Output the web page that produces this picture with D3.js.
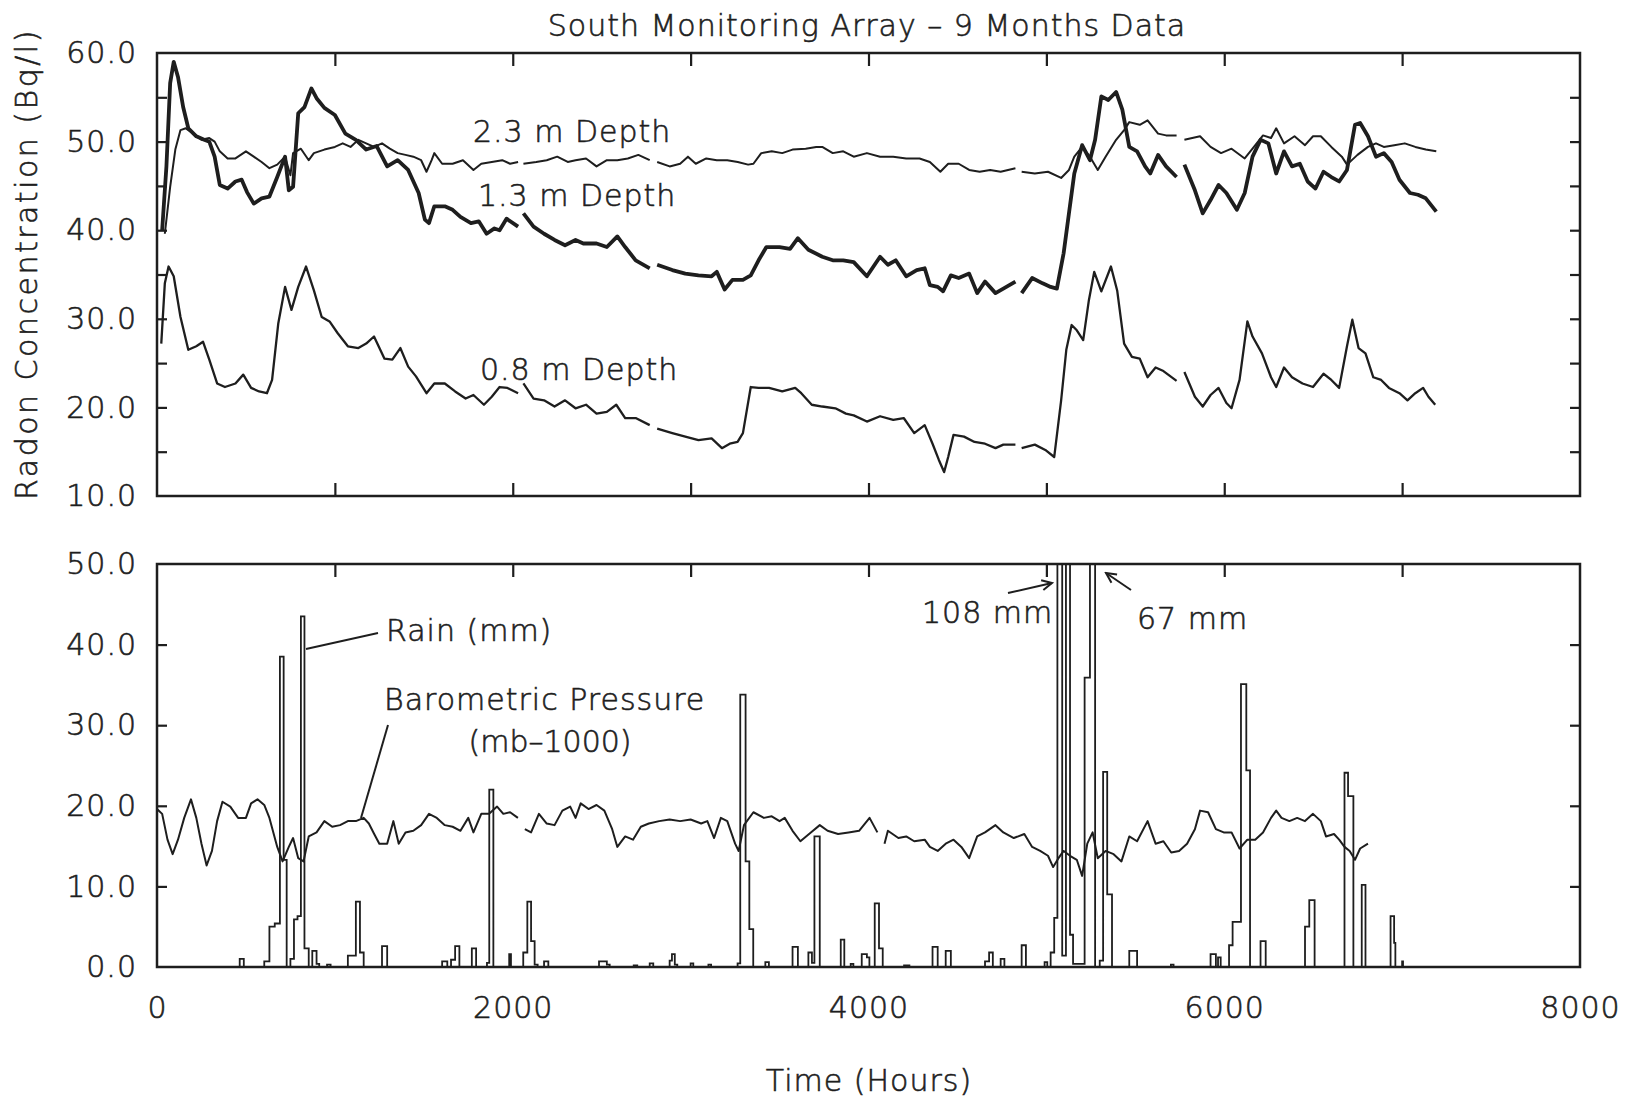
<!DOCTYPE html>
<html><head><meta charset="utf-8">
<script src="https://cdn.jsdelivr.net/npm/d3@7"></script>
<style>
html,body{margin:0;padding:0;background:#fff;}
svg{display:block;}
text{font-family:"DejaVu Sans",sans-serif;font-weight:200;fill:#1e1e1e;stroke:#1e1e1e;stroke-width:0.6px;letter-spacing:1px;}
</style></head><body>
<svg id="chart" width="1626" height="1101"></svg>
<script>
// ---------- data (hours, value); null = gap ----------
const depth23 = [[44,39.6],[74,44.9],[103,49.1],[132,51.3],[162,51.5],[206,50.9],[250,50.2],[294,50.4],[324,50.0],[353,48.9],[397,48.1],[441,48.1],[500,48.9],[544,48.3],[588,47.7],[632,47.0],[676,47.4],[720,48.3],[750,46.2],[765,48.7],[809,49.2],[853,47.9],[882,48.7],[941,49.1],[1000,49.4],[1044,49.8],[1088,49.4],[1132,50.2],[1176,49.8],[1220,49.4],[1265,49.8],[1309,49.2],[1353,48.7],[1397,48.5],[1441,48.3],[1485,47.9],[1515,46.6],[1544,47.9],[1559,48.7],[1603,47.5],[1662,47.5],[1720,47.9],[1779,46.8],[1823,47.5],[1882,47.7],[1941,47.9],[1985,47.5],[2030,47.7],[2045,null],[2060,47.5],[2132,47.7],[2191,47.9],[2250,48.3],[2309,47.7],[2353,47.9],[2412,48.1],[2471,47.2],[2529,47.9],[2588,47.9],[2647,48.1],[2706,48.5],[2770,47.9],[2790,null],[2812,47.7],[2882,47.2],[2941,47.5],[2985,48.3],[3029,47.5],[3088,48.1],[3147,47.9],[3206,47.9],[3265,47.7],[3323,47.4],[3353,47.5],[3397,48.7],[3456,48.9],[3515,48.7],[3573,49.1],[3647,49.2],[3706,49.4],[3740,49.4],[3799,48.7],[3858,48.9],[3917,48.3],[3991,48.7],[4065,48.3],[4139,48.3],[4212,48.1],[4287,48.1],[4345,47.7],[4404,46.6],[4448,47.5],[4507,47.5],[4566,46.8],[4625,46.6],[4684,46.8],[4743,46.6],[4826,47.0],[4843,null],[4861,46.6],[4935,46.4],[5009,46.6],[5083,45.9],[5127,46.8],[5157,48.3],[5201,49.4],[5245,48.3],[5289,46.8],[5333,48.3],[5392,50.2],[5437,51.3],[5466,52.2],[5525,51.9],[5569,52.4],[5628,50.9],[5673,50.7],[5732,50.7],[5754,null],[5776,50.2],[5864,50.6],[5923,49.4],[5982,48.7],[6041,49.2],[6115,48.1],[6159,49.2],[6218,50.7],[6263,50.4],[6292,51.5],[6336,49.8],[6395,50.6],[6454,49.6],[6499,50.6],[6543,50.6],[6602,49.4],[6661,48.3],[6690,47.4],[6749,48.5],[6808,49.4],[6853,49.8],[6897,49.4],[6956,49.6],[7015,49.8],[7074,49.4],[7133,49.1],[7192,48.9]];

const depth13 = [[29,40.0],[53,47.2],[74,56.6],[94,59.0],[118,57.3],[147,53.9],[176,51.5],[221,50.6],[265,50.2],[294,50.0],[324,48.3],[353,45.1],[397,44.7],[441,45.5],[476,45.7],[506,44.3],[544,43.0],[588,43.6],[632,43.8],[676,46.0],[720,48.3],[741,44.5],[765,44.9],[794,53.2],[829,53.9],[868,56.0],[897,54.9],[941,53.8],[1000,53.0],[1059,50.9],[1118,50.2],[1176,49.1],[1235,49.5],[1294,47.2],[1353,47.9],[1412,46.8],[1471,44.2],[1506,41.2],[1529,40.8],[1559,42.7],[1618,42.7],[1662,42.3],[1706,41.5],[1765,40.8],[1809,41.0],[1853,39.6],[1897,40.2],[1926,40.0],[1965,41.3],[2030,40.4],[2045,null],[2060,41.9],[2117,40.4],[2176,39.6],[2235,38.9],[2294,38.3],[2353,38.9],[2397,38.5],[2471,38.5],[2529,38.1],[2588,39.3],[2632,38.1],[2691,36.6],[2770,35.7],[2790,null],[2812,36.1],[2897,35.5],[2970,35.1],[3044,34.9],[3118,34.8],[3147,35.3],[3191,33.3],[3235,34.4],[3294,34.4],[3338,34.9],[3382,36.6],[3426,38.1],[3500,38.1],[3559,37.9],[3603,39.1],[3662,37.8],[3740,37.0],[3799,36.6],[3858,36.6],[3917,36.4],[3991,34.8],[4065,37.0],[4109,36.1],[4153,36.6],[4212,34.8],[4271,35.5],[4316,35.7],[4345,33.8],[4389,33.6],[4419,33.1],[4463,34.9],[4507,34.6],[4566,35.1],[4611,32.9],[4655,34.2],[4714,32.9],[4758,33.4],[4826,34.2],[4843,null],[4861,32.9],[4920,34.6],[4979,34.0],[5024,33.6],[5059,33.4],[5097,37.4],[5127,41.9],[5157,46.4],[5201,49.6],[5245,47.9],[5274,50.2],[5309,55.1],[5348,54.7],[5392,55.6],[5427,53.6],[5466,49.4],[5510,48.9],[5555,47.2],[5584,46.4],[5628,48.5],[5673,47.2],[5732,46.0],[5754,null],[5776,47.4],[5835,44.5],[5879,41.9],[5923,43.4],[5968,45.1],[6012,44.2],[6071,42.3],[6115,44.2],[6159,48.3],[6204,50.2],[6248,49.8],[6292,46.4],[6336,48.9],[6381,47.2],[6425,47.5],[6469,45.5],[6513,44.7],[6558,46.6],[6602,46.0],[6646,45.5],[6690,46.8],[6735,51.9],[6764,52.1],[6808,50.6],[6853,48.3],[6897,48.7],[6941,47.7],[6985,45.7],[7044,44.2],[7089,44.0],[7133,43.6],[7192,42.1]];

const depth08 = [[24,27.2],[44,34.0],[65,35.9],[94,34.8],[132,30.2],[176,26.5],[221,26.9],[259,27.4],[294,25.4],[338,22.7],[382,22.3],[441,22.7],[485,23.7],[529,22.2],[574,21.8],[618,21.6],[647,23.1],[682,29.5],[720,33.6],[756,31.0],[794,33.6],[838,35.9],[882,33.2],[926,30.2],[970,29.7],[1015,28.4],[1073,26.9],[1132,26.7],[1176,27.2],[1220,28.0],[1279,25.5],[1323,25.4],[1368,26.7],[1412,24.6],[1456,23.5],[1515,21.6],[1559,22.7],[1618,22.7],[1676,21.8],[1735,21.0],[1779,21.4],[1838,20.3],[1882,21.2],[1926,22.3],[1970,22.2],[2030,21.6],[2045,null],[2060,22.7],[2117,21.0],[2176,20.8],[2235,20.1],[2294,20.8],[2353,19.9],[2412,20.3],[2471,19.3],[2529,19.5],[2582,20.3],[2632,18.8],[2691,18.8],[2770,18.0],[2790,null],[2812,17.6],[2897,17.1],[2970,16.7],[3044,16.3],[3118,16.5],[3176,15.4],[3220,15.9],[3264,16.1],[3294,17.1],[3338,22.3],[3382,22.2],[3441,22.2],[3515,21.8],[3588,22.2],[3622,21.6],[3681,20.3],[3740,20.1],[3814,19.9],[3873,19.3],[3917,19.1],[3991,18.4],[4065,19.0],[4139,18.6],[4198,18.8],[4257,17.1],[4316,18.0],[4360,15.9],[4395,14.1],[4425,12.7],[4448,14.4],[4478,16.9],[4537,16.7],[4596,16.1],[4655,15.9],[4714,15.4],[4758,15.8],[4826,15.8],[4843,null],[4861,15.4],[4935,15.8],[4994,15.2],[5044,14.4],[5083,20.8],[5112,26.5],[5142,29.3],[5171,28.7],[5207,27.6],[5239,32.1],[5269,35.3],[5309,33.1],[5363,35.9],[5398,33.2],[5437,27.2],[5481,25.7],[5525,25.5],[5569,23.4],[5614,24.5],[5658,24.1],[5732,23.0],[5754,null],[5776,24.0],[5835,21.2],[5879,20.1],[5923,21.4],[5968,22.2],[6012,20.5],[6041,19.9],[6086,23.1],[6130,29.7],[6159,28.0],[6212,26.1],[6263,23.4],[6292,22.3],[6336,24.5],[6381,23.4],[6440,22.7],[6499,22.3],[6558,23.8],[6602,23.1],[6646,22.2],[6690,26.9],[6720,29.9],[6755,26.7],[6794,26.1],[6838,23.4],[6882,23.1],[6926,22.2],[6985,21.6],[7030,20.8],[7074,21.6],[7118,22.2],[7148,21.2],[7186,20.3]];

const pressure = [[0,19.6],[29,19.0],[59,15.8],[88,14.0],[118,15.8],[153,18.5],[191,20.8],[221,18.5],[250,15.3],[279,12.6],[309,14.4],[338,18.1],[368,20.5],[412,19.9],[456,18.5],[500,18.5],[529,20.3],[565,20.8],[603,20.1],[632,18.5],[676,14.9],[706,13.1],[741,14.9],[765,16.0],[794,13.5],[824,13.1],[853,16.2],[897,16.7],[941,18.1],[985,17.4],[1029,17.6],[1073,18.1],[1118,18.1],[1162,18.5],[1191,17.8],[1221,16.5],[1250,15.3],[1294,15.3],[1329,18.1],[1359,15.3],[1397,16.7],[1441,16.9],[1485,17.6],[1529,19.0],[1573,18.5],[1618,17.6],[1662,17.4],[1706,16.9],[1750,18.5],[1779,16.7],[1823,19.0],[1867,19.0],[1912,19.9],[1947,19.0],[1985,19.2],[2029,18.5],[2045,null],[2068,17.1],[2103,16.7],[2147,19.0],[2191,17.8],[2235,17.6],[2279,19.4],[2323,19.9],[2353,18.5],[2382,20.3],[2426,19.6],[2471,20.1],[2515,19.4],[2559,17.1],[2588,14.9],[2632,16.2],[2676,15.8],[2720,17.4],[2765,17.8],[2823,18.1],[2882,18.3],[2941,18.1],[3000,18.3],[3059,17.8],[3094,18.1],[3132,16.0],[3170,18.5],[3206,18.1],[3250,15.3],[3270,14.4],[3300,17.6],[3353,19.2],[3412,18.5],[3456,18.7],[3500,18.1],[3529,18.5],[3573,16.9],[3617,15.6],[3676,16.7],[3726,17.6],[3770,16.9],[3829,16.5],[3888,16.7],[3947,16.9],[4006,18.5],[4050,16.7],[4070,null],[4090,15.3],[4109,16.9],[4168,16.0],[4212,16.2],[4257,15.6],[4316,15.8],[4345,14.9],[4389,14.4],[4434,15.3],[4478,15.8],[4522,14.9],[4566,13.5],[4611,16.2],[4655,16.7],[4714,17.6],[4758,16.7],[4817,16.0],[4876,16.5],[4920,14.9],[4965,14.4],[5009,13.8],[5038,12.4],[5068,13.5],[5097,14.4],[5133,13.8],[5171,13.3],[5201,11.3],[5230,15.3],[5260,16.7],[5289,13.5],[5333,14.4],[5378,14.0],[5422,13.1],[5466,16.2],[5510,15.6],[5569,18.1],[5614,15.3],[5658,15.6],[5702,14.2],[5746,14.4],[5791,15.3],[5835,17.1],[5864,19.4],[5909,19.2],[5953,17.1],[5997,16.7],[6041,16.7],[6086,14.7],[6130,15.8],[6174,15.8],[6218,16.7],[6263,18.5],[6292,19.4],[6322,18.5],[6366,18.1],[6410,18.5],[6454,18.1],[6499,19.0],[6543,18.1],[6572,16.2],[6617,16.5],[6646,15.8],[6676,14.9],[6705,14.4],[6735,13.3],[6764,14.7],[6808,15.3]];

// rain: [start hour, mm] step values (held until next entry)
const rain = [[0,0],[465,1.0],[488,0],[603,0.7],[632,5.0],[662,5.4],[691,38.5],[712,13.3],[729,0],[750,1.0],[770,5.9],[790,6.3],[809,43.5],[829,2.3],[853,0],[873,2.0],[897,0.4],[912,0],[956,0.3],[976,0],[1073,1.4],[1118,8.1],[1141,1.8],[1162,0],[1265,2.6],[1294,0],[1603,0.7],[1632,0],[1653,0.9],[1676,2.6],[1700,0],[1770,2.3],[1794,0],[1855,0.5],[1868,22.0],[1891,0],[1980,1.6],[1990,0],[2059,1.8],[2082,8.1],[2103,3.2],[2123,0.3],[2140,0],[2176,0.7],[2200,0],[2485,0.7],[2529,0.3],[2545,0],[2680,0.2],[2700,0],[2770,0.45],[2790,0],[2882,0.8],[2895,1.6],[2911,0.3],[2925,0],[3000,0.45],[3015,0],[3100,0.3],[3115,0],[3264,0.45],[3279,33.8],[3309,13.1],[3330,4.7],[3352,0],[3420,0.6],[3440,0],[3573,2.5],[3603,0],[3662,1.8],[3682,0.5],[3696,16.2],[3726,0],[3844,3.4],[3864,0],[3900,0.4],[3915,0],[3962,1.6],[3991,1.2],[4005,0],[4035,7.9],[4059,2.3],[4080,0],[4200,0.2],[4230,0],[4360,2.5],[4389,0],[4434,2.0],[4463,0],[4655,0.7],[4678,1.8],[4699,0],[4743,1.0],[4764,0],[4861,2.7],[4885,0],[4990,0.6],[5005,0],[5024,1.8],[5044,6.1],[5062,108],[5089,1.4],[5110,80],[5133,4],[5150,0.4],[5215,35.9],[5245,67],[5274,0],[5300,0.8],[5319,24.2],[5342,9.0],[5369,0],[5466,2.0],[5510,0],[5700,0.3],[5715,0],[5923,1.6],[5953,0],[5965,1.2],[5980,0],[6027,2.7],[6047,5.6],[6094,35.1],[6124,24.4],[6145,0],[6204,3.2],[6233,0],[6454,5.0],[6478,8.3],[6508,0],[6676,24.1],[6696,21.2],[6726,0],[6773,10.2],[6794,0],[6935,6.3],[6955,3.0],[6962,0],[7000,0.7],[7005,0]];

const innerHourTicks = [1000,2000,3000,4000,5000,6000,7000];
const hourLabels = [0,2000,4000,6000,8000];
const radonMinorTicks = [15,20,25,30,35,40,45,50,55];
const radonLabels = [10,20,30,40,50,60];
const bottomInnerTicks = [10,20,30,40];
const bottomLabels = [0,10,20,30,40,50];

// ---------- layout ----------
const L = 157, R = 1580, T1 = 53, B1 = 496, T2 = 564, B2 = 967;
const ink = "#1e1e1e";
const svg = d3.select("#chart");
svg.append("rect").attr("width",1626).attr("height",1101).attr("fill","#fff");

const x = d3.scaleLinear().domain([0,8000]).range([L,R]);
const yTop = d3.scaleLinear().domain([10,60]).range([B1,T1]);
const yBot = d3.scaleLinear().domain([0,50]).range([B2,T2]);

const defs = svg.append("defs");
defs.append("clipPath").attr("id","c1").append("rect").attr("x",L).attr("y",T1).attr("width",R-L).attr("height",B1-T1);
defs.append("clipPath").attr("id","c2").append("rect").attr("x",L).attr("y",T2).attr("width",R-L).attr("height",B2-T2);
defs.append("marker").attr("id","arr").attr("viewBox","-12 -7 14 14").attr("markerWidth",14).attr("markerHeight",14)
  .attr("markerUnits","userSpaceOnUse").attr("orient","auto")
  .append("path").attr("d","M-10,-5 L0,0 L-10,5").attr("fill","none").attr("stroke",ink).attr("stroke-width",2);

function styleAxis(g){
  g.select(".domain").remove();
  g.selectAll(".tick line").attr("stroke",ink).attr("stroke-width",2.2);
  g.selectAll("text").style("font-size","30px").style("font-family",'"DejaVu Sans",sans-serif');
}

// ---- top panel ticks ----
svg.append("g").attr("transform",`translate(0,${B1})`).call(d3.axisBottom(x).tickValues(innerHourTicks).tickSizeInner(-13).tickSizeOuter(0).tickFormat("")).call(styleAxis);
svg.append("g").attr("transform",`translate(0,${T1})`).call(d3.axisTop(x).tickValues(innerHourTicks).tickSizeInner(-13).tickSizeOuter(0).tickFormat("")).call(styleAxis);
svg.append("g").attr("transform",`translate(${L},0)`).call(d3.axisLeft(yTop).tickValues(radonMinorTicks).tickSizeInner(-10).tickSizeOuter(0).tickFormat("")).call(styleAxis);
svg.append("g").attr("transform",`translate(${R},0)`).call(d3.axisRight(yTop).tickValues(radonMinorTicks).tickSizeInner(-10).tickSizeOuter(0).tickFormat("")).call(styleAxis);
svg.append("g").attr("transform",`translate(${L},0)`).call(d3.axisLeft(yTop).tickValues(radonLabels).tickSize(0).tickPadding(20).tickFormat(d3.format(".1f"))).call(styleAxis);

// ---- bottom panel ticks ----
svg.append("g").attr("transform",`translate(0,${T2})`).call(d3.axisTop(x).tickValues(innerHourTicks).tickSizeInner(-13).tickSizeOuter(0).tickFormat("")).call(styleAxis);
svg.append("g").attr("transform",`translate(${L},0)`).call(d3.axisLeft(yBot).tickValues(bottomInnerTicks).tickSizeInner(-10).tickSizeOuter(0).tickFormat("")).call(styleAxis);
svg.append("g").attr("transform",`translate(${R},0)`).call(d3.axisRight(yBot).tickValues(bottomInnerTicks).tickSizeInner(-10).tickSizeOuter(0).tickFormat("")).call(styleAxis);
svg.append("g").attr("transform",`translate(${L},0)`).call(d3.axisLeft(yBot).tickValues(bottomLabels).tickSize(0).tickPadding(20).tickFormat(d3.format(".1f"))).call(styleAxis);
svg.append("g").attr("transform",`translate(0,${B2})`).call(d3.axisBottom(x).tickValues(hourLabels).tickSize(0).tickPadding(30).tickFormat(d3.format("d"))).call(styleAxis);

// ---- series ----
const lineTop = d3.line().defined(d=>d[1]!==null).x(d=>x(d[0])).y(d=>yTop(d[1]));
const gTop = svg.append("g").attr("clip-path","url(#c1)");
const series = [[depth23,2.0],[depth13,3.8],[depth08,2.3]];
series.forEach(([data,w])=>{
  gTop.append("path").datum(data).attr("d",lineTop).attr("fill","none").attr("stroke",ink).attr("stroke-width",w).attr("stroke-linejoin","round");
});
const gBot = svg.append("g").attr("clip-path","url(#c2)");
const rainLine = d3.line().x(d=>x(d[0])).y(d=>yBot(d[1])).curve(d3.curveStepAfter);
gBot.append("path").datum(rain).attr("d",rainLine).attr("fill","none").attr("stroke",ink).attr("stroke-width",1.8);
const presLine = d3.line().defined(d=>d[1]!==null).x(d=>x(d[0])).y(d=>yBot(d[1]));
gBot.append("path").datum(pressure).attr("d",presLine).attr("fill","none").attr("stroke",ink).attr("stroke-width",2).attr("stroke-linejoin","round");

// ---- frames ----
svg.append("rect").attr("x",L).attr("y",T1).attr("width",R-L).attr("height",B1-T1).attr("fill","none").attr("stroke",ink).attr("stroke-width",2.5);
svg.append("rect").attr("x",L).attr("y",T2).attr("width",R-L).attr("height",B2-T2).attr("fill","none").attr("stroke",ink).attr("stroke-width",2.5);

// ---- texts ----
function txt(s,xx,yy,anchor="start",size=30){
  return svg.append("text").attr("x",xx).attr("y",yy).attr("text-anchor",anchor).style("font-size",size+"px").text(s);
}
txt("South Monitoring Array \u2013 9 Months Data",867,36,"middle");
txt("Time (Hours)",869,1091,"middle");
svg.append("text").attr("transform","translate(37,264) rotate(-90)").attr("text-anchor","middle").style("font-size","30px").style("letter-spacing","2.5px").text("Radon Concentration (Bq/l)");

txt("2.3 m Depth",473,142);
txt("1.3 m Depth",478,206);
txt("0.8 m Depth",480,380);

txt("Rain (mm)",386,641);
txt("Barometric Pressure",384,710);
txt("(mb\u20131000)",550,752,"middle").style("letter-spacing","0px");
txt("108 mm",922,623);
txt("67 mm",1137,629);

// leader lines
svg.append("line").attr("x1",306).attr("y1",649).attr("x2",378).attr("y2",633).attr("stroke",ink).attr("stroke-width",2);
svg.append("line").attr("x1",388).attr("y1",725).attr("x2",361).attr("y2",818).attr("stroke",ink).attr("stroke-width",2);
svg.append("line").attr("x1",1008).attr("y1",593).attr("x2",1052).attr("y2",583).attr("stroke",ink).attr("stroke-width",2).attr("marker-end","url(#arr)");
svg.append("line").attr("x1",1131).attr("y1",590).attr("x2",1106).attr("y2",573).attr("stroke",ink).attr("stroke-width",2).attr("marker-end","url(#arr)");
</script>
</body></html>
